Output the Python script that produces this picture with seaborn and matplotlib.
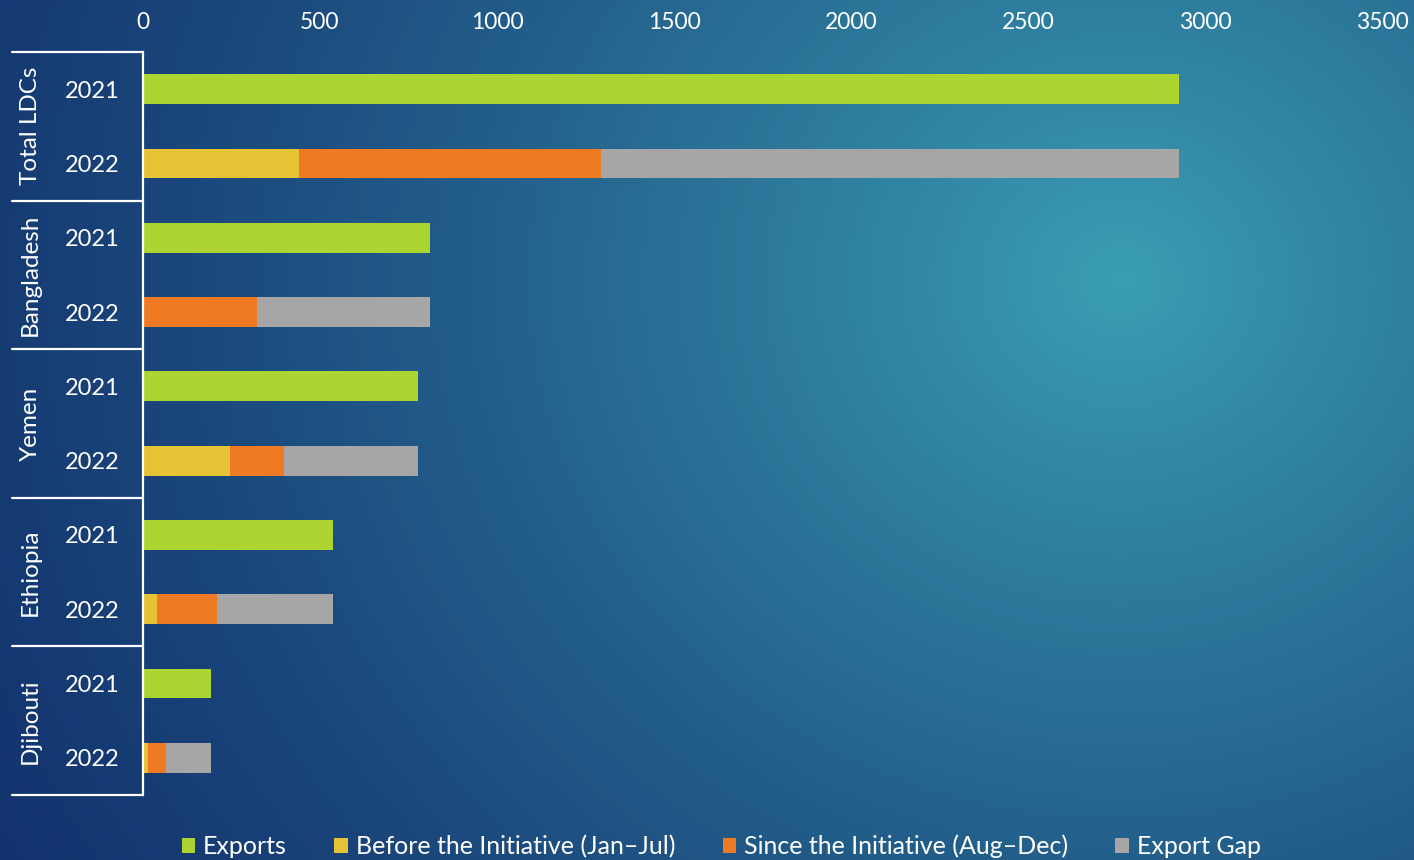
import numpy as np
import pandas as pd
import matplotlib
matplotlib.use("Agg")
import matplotlib.pyplot as plt
import seaborn as sns
from matplotlib.patches import Patch

# data
groups = ["Total LDCs", "Bangladesh", "Yemen", "Ethiopia", "Djibouti"]
years = ["2021", "2022"]
exports_2021 = [2927, 811, 777, 537, 192]
before_2022 = [441, 0, 246, 40, 14]
since_2022 = [853, 322, 152, 169, 51]
gap_2022 = [1633, 489, 379, 328, 127]

series = ["Exports", "Before the Initiative (Jan\u2013Jul)",
          "Since the Initiative (Aug\u2013Dec)", "Export Gap"]
colors = ["#ADD532", "#E6C235", "#EE7B23", "#A6A6A6"]

rows = []
for i, g in enumerate(groups):
    rows.append({"row": g + " 2021", "exports": exports_2021[i],
                 "before": np.nan, "since": np.nan, "gap": np.nan})
    rows.append({"row": g + " 2022", "exports": np.nan,
                 "before": before_2022[i], "since": since_2022[i], "gap": gap_2022[i]})
df = pd.DataFrame(rows)
# cumulative ends for stacking by overdraw
df["c_gap"] = df["before"] + df["since"] + df["gap"]
df["c_since"] = df["before"] + df["since"]
df["c_before"] = df["before"]
order = list(df["row"])

sns.set_style("white")
plt.rcParams["font.family"] = ["Lato", "DejaVu Sans"]

fig = plt.figure(figsize=(14.14, 8.6), dpi=100)

# background gradient
bg = fig.add_axes([0, 0, 1, 1], zorder=-10)
yy, xx = np.mgrid[0:860, 0:1414]
d = np.sqrt((xx - 1120.0) ** 2 + ((yy - 280.0) * 1.1) ** 2)
t = np.clip(1 - d / 1400.0, 0, 1) ** 1.4
dark = np.array([18, 48, 108]) / 255
light = np.array([58, 158, 180]) / 255
img = dark[None, None, :] * (1 - t[..., None]) + light[None, None, :] * t[..., None]
bg.imshow(img, aspect="auto", extent=[0, 1, 0, 1])
bg.axis("off")

ax = fig.add_axes([143 / 1414, 1 - 795 / 860, 1239 / 1414, 743 / 860])
ax.set_facecolor("none")

w = 0.4
sns.barplot(data=df, x="exports", y="row", order=order, color=colors[0],
            width=w, saturation=1, ax=ax, linewidth=0)
sns.barplot(data=df, x="c_gap", y="row", order=order, color=colors[3],
            width=w, saturation=1, ax=ax, linewidth=0)
sns.barplot(data=df, x="c_since", y="row", order=order, color=colors[2],
            width=w, saturation=1, ax=ax, linewidth=0)
sns.barplot(data=df, x="c_before", y="row", order=order, color=colors[1],
            width=w, saturation=1, ax=ax, linewidth=0)

ax.set_xlim(0, 3500)
ax.set_ylim(len(order) - 0.5, -0.5)
ax.set_xticks(range(0, 3501, 500))
ax.xaxis.tick_top()
ax.tick_params(axis="x", length=0, pad=14, labelsize=16.5, labelcolor="white")
ax.tick_params(axis="y", length=0, pad=17, labelsize=17, labelcolor="white")
ax.set_yticks(range(len(order)))
ax.set_yticklabels([r.split()[-1] for r in order])
ax.set_xlabel("")
ax.set_ylabel("")
for s in ["top", "right", "bottom"]:
    ax.spines[s].set_visible(False)
ax.spines["left"].set_color("white")
ax.spines["left"].set_linewidth(1.6)

# hierarchical group labels and separators
trans = matplotlib.transforms.blended_transform_factory(ax.transAxes, ax.transData)
x0 = (12 - 143) / 1239
for i, g in enumerate(groups):
    ax.text((30 - 143) / 1239, 2 * i + 0.5, g, rotation=90, ha="center", va="center",
            color="white", fontsize=17.5, transform=trans)
for b in np.arange(-0.5, len(order), 2):
    ax.plot([x0, 0], [b, b], color="white", lw=1.6, transform=trans, clip_on=False)

handles = [Patch(facecolor=c, edgecolor="none") for c in colors]
fig.legend(handles, series, loc="lower center", bbox_to_anchor=(0.51, -0.024), ncol=4,
           frameon=False, fontsize=18, labelcolor="white", handlelength=0.55,
           handleheight=0.55, handletextpad=0.3, columnspacing=1.9)

fig.savefig("out.png", dpi=100)
